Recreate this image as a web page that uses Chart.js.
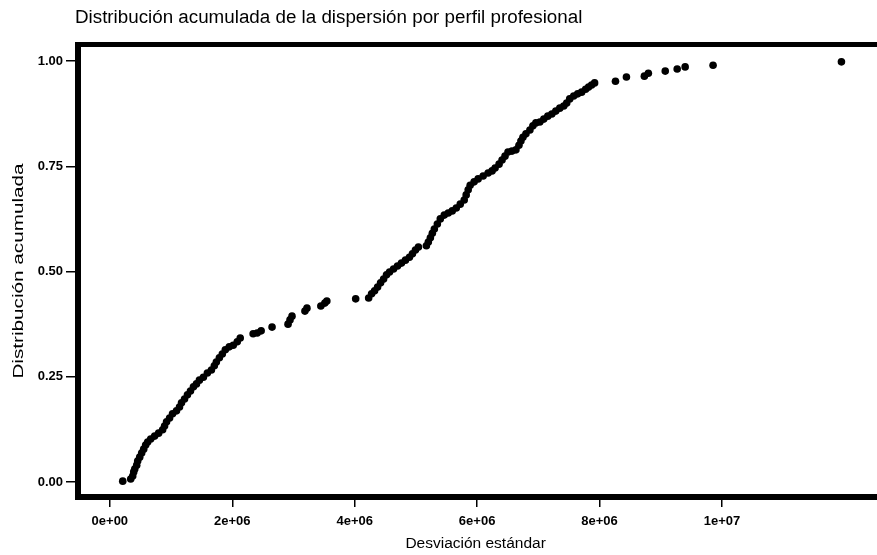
<!DOCTYPE html>
<html>
<head>
<meta charset="utf-8">
<script src="https://cdn.jsdelivr.net/npm/chart.js@4/dist/chart.umd.min.js"></script>
<style>
  html, body { margin: 0; padding: 0; background: #ffffff; }
  #wrap { width: 877px; height: 555px; position: relative; }
</style>
</head>
<body>
<div id="wrap"><canvas id="c" width="877" height="555"></canvas></div>
<script>
const chartTitle = "Distribución acumulada de la dispersión por perfil profesional";
const xAxisTitle = "Desviación estándar";
const yAxisTitle = "Distribución acumulada";

const xTickValues = [0, 2000000, 4000000, 6000000, 8000000, 10000000];
const xTickLabels = ["0e+00", "2e+06", "4e+06", "6e+06", "8e+06", "1e+07"];
const yTickValues = [0, 0.25, 0.5, 0.75, 1];
const yTickLabels = ["0.00", "0.25", "0.50", "0.75", "1.00"];

// standard deviation per profile (sorted)
const desviacion = [
  211000, 341000, 374000, 390000, 407000, 439000, 455000, 488000, 520000, 553000,
  585000, 618000, 667000, 732000, 797000, 862000, 894000, 927000, 976000, 1024000,
  1089000, 1138000, 1171000, 1220000, 1268000, 1317000, 1366000, 1415000, 1463000, 1528000,
  1593000, 1659000, 1707000, 1740000, 1789000, 1837000, 1886000, 1951000, 2016000, 2081000,
  2130000, 2341000, 2407000, 2472000, 2650000, 2911000, 2943000, 2976000, 3187000, 3220000,
  3447000, 3512000, 3545000, 4016000, 4228000, 4276000, 4325000, 4374000, 4423000, 4472000,
  4520000, 4569000, 4634000, 4699000, 4764000, 4829000, 4894000, 4943000, 4992000, 5041000,
  5171000, 5203000, 5236000, 5268000, 5301000, 5350000, 5398000, 5463000, 5528000, 5593000,
  5659000, 5724000, 5789000, 5821000, 5854000, 5886000, 5951000, 6016000, 6098000, 6179000,
  6244000, 6293000, 6358000, 6407000, 6455000, 6504000, 6569000, 6634000, 6683000, 6715000,
  6748000, 6797000, 6862000, 6911000, 6959000, 7024000, 7089000, 7154000, 7220000, 7285000,
  7350000, 7415000, 7463000, 7512000, 7577000, 7642000, 7707000, 7772000, 7821000, 7870000,
  7919000, 8260000, 8439000, 8732000, 8797000, 9073000, 9268000, 9398000, 9854000, 11951000
];
// cumulative distribution value for each point
const acumulada = [
  0.002, 0.007, 0.014, 0.024, 0.031, 0.040, 0.050, 0.059, 0.069, 0.078,
  0.088, 0.095, 0.102, 0.109, 0.116, 0.124, 0.133, 0.143, 0.152, 0.162,
  0.169, 0.178, 0.188, 0.197, 0.207, 0.216, 0.226, 0.233, 0.242, 0.249,
  0.259, 0.266, 0.276, 0.285, 0.295, 0.304, 0.314, 0.321, 0.325, 0.333,
  0.342, 0.352, 0.354, 0.359, 0.368, 0.375, 0.385, 0.394, 0.406, 0.413,
  0.418, 0.425, 0.430, 0.435, 0.437, 0.447, 0.454, 0.463, 0.473, 0.482,
  0.492, 0.499, 0.506, 0.513, 0.520, 0.527, 0.534, 0.542, 0.551, 0.558,
  0.561, 0.570, 0.580, 0.591, 0.601, 0.613, 0.625, 0.634, 0.639, 0.644,
  0.651, 0.660, 0.670, 0.682, 0.694, 0.705, 0.713, 0.720, 0.727, 0.734,
  0.739, 0.746, 0.755, 0.765, 0.774, 0.784, 0.786, 0.789, 0.800, 0.810,
  0.819, 0.827, 0.836, 0.846, 0.853, 0.855, 0.862, 0.869, 0.874, 0.881,
  0.888, 0.893, 0.900, 0.910, 0.917, 0.922, 0.926, 0.933, 0.938, 0.943,
  0.948, 0.952, 0.962, 0.964, 0.971, 0.976, 0.981, 0.986, 0.990, 0.998
];

const points = desviacion.map((x, i) => ({ x: x, y: acumulada[i] }));

const FONT = "'Liberation Sans', Arial, Helvetica, sans-serif";

const decorPlugin = {
  id: 'decor',
  afterDraw(chart) {
    const ctx = chart.ctx;
    const a = chart.chartArea;
    ctx.save();
    ctx.fillStyle = '#000';
    // top frame line
    ctx.fillRect(a.left - 3, a.top - 3, chart.width - a.left + 3, 5);
    // bottom axis line continues to the right edge
    ctx.fillRect(a.right - 2, a.bottom - 3, chart.width - a.right + 2, 6);
    // title
    ctx.font = "18.8px " + FONT;
    ctx.textAlign = 'left';
    ctx.textBaseline = 'middle';
    ctx.fillText(chartTitle, a.left - 3, 18);
    // y axis title (stretched along its direction like the reference)
    ctx.translate(19, 271);
    ctx.rotate(-Math.PI / 2);
    ctx.scale(1.38, 1);
    ctx.font = "15px " + FONT;
    ctx.textAlign = 'center';
    ctx.textBaseline = 'middle';
    ctx.fillText(yAxisTitle, 0, 0);
    ctx.restore();
  }
};

new Chart(document.getElementById('c'), {
  type: 'scatter',
  data: {
    datasets: [{
      label: 'ecdf',
      data: points,
      backgroundColor: '#000',
      borderColor: '#000',
      borderWidth: 0,
      pointRadius: 3.8,
      pointHoverRadius: 3.8
    }]
  },
  options: {
    responsive: false,
    animation: false,
    events: [],
    layout: { padding: { top: 45, right: 0, left: 0, bottom: 0 } },
    plugins: {
      legend: { display: false },
      title: { display: false },
      tooltip: { enabled: false }
    },
    scales: {
      x: {
        type: 'linear',
        min: -520000,
        max: 12470000,
        afterFit(s) { s.height = 58; },
        afterBuildTicks(s) { s.ticks = xTickValues.map(v => ({ value: v })); },
        ticks: {
          color: '#000',
          font: { family: FONT, size: 13, weight: 'bold' },
          padding: 7,
          maxRotation: 0,
          autoSkip: false,
          callback(v) { const i = xTickValues.indexOf(v); return i >= 0 ? xTickLabels[i] : ''; }
        },
        grid: { display: true, drawOnChartArea: false, drawTicks: true, tickLength: 10, color: '#000', lineWidth: 1.5 },
        border: { display: true, color: '#000', width: 6 },
        title: {
          display: true,
          text: xAxisTitle,
          color: '#000',
          font: { family: FONT, size: 15.5 },
          padding: { top: 0, bottom: 2 }
        }
      },
      y: {
        type: 'linear',
        min: -0.0356,
        max: 1.038,
        afterFit(s) { s.width = 78; },
        afterBuildTicks(s) { s.ticks = yTickValues.map(v => ({ value: v })); },
        ticks: {
          color: '#000',
          font: { family: FONT, size: 13, weight: 'bold' },
          padding: 3,
          autoSkip: false,
          callback(v) { const i = yTickValues.indexOf(v); return i >= 0 ? yTickLabels[i] : ''; }
        },
        grid: { display: true, drawOnChartArea: false, drawTicks: true, tickLength: 12, color: '#000', lineWidth: 1.5 },
        border: { display: true, color: '#000', width: 6 }
      }
    }
  },
  plugins: [decorPlugin]
});
</script>
</body>
</html>
